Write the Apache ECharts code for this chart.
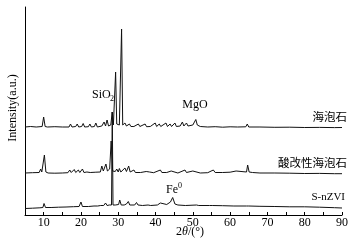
<!DOCTYPE html>
<html><head><meta charset="utf-8">
<script src="https://cdn.jsdelivr.net/npm/echarts@6/dist/echarts.min.js"></script>
<style>html,body{margin:0;padding:0;background:#fff}#c{width:358px;height:244px}</style>
</head><body><div id="c"></div>
<script>
// 2θ (degrees) and intensity (a.u., offset stacked) per sample
const sepAngle = [5,6.5,8,9.6,10.0,10.4,11,13,15,16.8,17.2,17.6,18.6,19.0,19.4,20.2,20.6,21.0,22.0,22.4,22.8,23.6,24.0,24.4,25.6,26.2,26.6,27.0,27.4,28.0,28.4,28.7,29.0,29.3,29.6,30.0,30.3,30.6,30.9,31.2,31.8,32.2,33.0,33.4,34.2,35.4,35.8,37.2,37.6,38.6,39.9,40.3,41.0,41.4,42.8,43.2,43.9,44.3,45.2,45.6,46.6,47.2,47.6,48.3,48.7,50.0,50.4,50.8,51.2,51.6,52.0,54,56,58,60,62,64.2,64.6,65.0,68,72,76,80,84,88,90];
const sepInt   = [88,88.5,88,88.5,98,88.5,88,88.3,88,88,91,88,88.5,91,88,88.5,91.5,88,88.3,91,88,88.5,92,88,89,93,89,95,89,90,103,90,92,143,91,93,90,92,186,90,92,89,91,88.5,88.5,91,88.5,91,88.3,88.5,92,88.5,91,88.5,92,88.5,91,88.5,92,88.5,89,93,89,92,89,90,89.5,95.5,90,92,88.5,88,88.3,87.8,88.2,88,88.2,91,88,88,87.7,87.8,87.5,87.6,87.4,87.5];

const acidAngle = [5,7,8.8,9.2,9.5,10.2,10.6,11.2,13,15,16.5,17.0,17.4,18.2,18.6,19.3,19.7,20.4,20.8,21.6,22.5,24,25.2,25.6,26.0,26.7,27.1,27.7,28.1,28.5,29.2,29.6,30.0,30.3,30.7,31.8,32.2,32.8,33.2,34.2,34.6,36,37.5,37.9,38.4,39.5,41.3,41.7,43,44.2,44.6,46,47.9,48.3,50,50.4,52,54,55.5,56,58,60,61.6,62,64.4,64.7,65.1,66,68,72,76,80,84,88,90];
const acidInt   = [42,42.3,42.5,46,43,60,43,42,41.8,42,42.3,45,42.5,45.5,42.5,45,42.5,46,42.5,43,42.5,42.8,43,49,44,51,44,46,74,44,43.5,46,43,46.5,43,47,43.5,49,43,45,42.5,42.5,43.5,45,43,42.3,45,42.5,42.5,44,42.5,42,45,42.5,44,42.3,42,42.3,45,42.5,42.5,42.8,44,42.3,43,50,43,42.5,42,42,41.8,41.5,41.6,41.3,41.3];

const znviAngle = [5,7,9,9.8,10.1,10.5,12,14,16,18,19.5,20.0,20.4,22,23.5,24.5,25.3,25.7,26.1,26.6,27.0,27.6,28.2,28.4,28.6,29.2,30.1,30.4,30.8,31.6,32.2,32.7,33.1,34.4,34.9,35.3,36.5,38.0,38.3,38.7,40.5,41.3,41.7,43,44.0,44.6,45.2,46,48,51,51.3,51.6,54.5,54.8,55.2,58,61,64.4,64.7,65,68,72,76,80,84,88,90];
const znviInt   = [6.5,6.8,7.2,7.5,11.5,7.5,7.5,7.8,8,8.3,8.5,13,8.5,8.5,9,9,9.5,11.5,9.5,12,9.5,10,10,103,10,10,10.5,15,10,10,11,13.5,10,10,12.5,10,9.5,10,11.5,9.5,10,12,10,10.5,13,17.5,11,10,9.5,10,11,9.5,9.5,10.5,9.5,9.3,9,9,11,9,8.7,8.5,8.2,8.2,7.8,7.3,7];

const xTicks = [10,20,30,40,50,60,70,80,90];
const seriesNames = ['海泡石','酸改性海泡石','S-nZVI'];

function pairs(a, b){ return a.map((v,i)=>[v,b[i]]); }

const chart = echarts.init(document.getElementById('c'), null, {renderer:'canvas'});
const serif = '"Liberation Serif","DejaVu Serif",serif';
const cjk = '"Noto Sans CJK SC","Noto Sans CJK JP",sans-serif';
const lineStyle = {color:'#111', width:1};
const mk = (name, d) => ({type:'line', name, data:d, showSymbol:false, symbol:'none', lineStyle, silent:true, animation:false});

chart.setOption({
  backgroundColor:'#fff',
  animation:false,
  grid:{left:25, right:16, top:7, bottom:29},
  xAxis:{type:'value', min:5, max:90, interval:5,
    axisLine:{show:true, lineStyle:{color:'#000', width:1}},
    axisTick:{show:true, inside:true, length:3, lineStyle:{color:'#000'}},
    splitLine:{show:false},
    axisLabel:{margin:2, color:'#000', fontFamily:serif, fontSize:12,
      formatter:v => xTicks.includes(v) ? String(v) : ''}},
  yAxis:{type:'value', min:0, max:208,
    axisLine:{show:true, lineStyle:{color:'#000', width:1}},
    axisTick:{show:false}, axisLabel:{show:false}, splitLine:{show:false}},
  series:[
    mk(seriesNames[0], pairs(sepAngle, sepInt)),
    mk(seriesNames[1], pairs(acidAngle, acidInt)),
    mk(seriesNames[2], pairs(znviAngle, znviInt))
  ],
  graphic:[
    {type:'text', x:13, y:108, rotation:Math.PI/2, style:{text:'Intensity(a.u.)', font:'12px '+serif, fill:'#000', textAlign:'center', textVerticalAlign:'middle'}},
    {type:'text', x:190, y:232, style:{text:'2{i|θ}/(°)', font:'12px '+serif, fill:'#000', textAlign:'center', textVerticalAlign:'middle', rich:{i:{fontStyle:'italic', fontFamily:serif, fontSize:12}}}},
    {type:'text', x:92, y:95, style:{text:'SiO', font:'12px '+serif, fill:'#000', textVerticalAlign:'middle'}},
    {type:'text', x:110, y:99, style:{text:'2', font:'8px '+serif, fill:'#000', textVerticalAlign:'middle'}},
    {type:'text', x:195, y:105, style:{text:'MgO', font:'12px '+serif, fill:'#000', textAlign:'center', textVerticalAlign:'middle'}},
    {type:'text', x:166, y:190, style:{text:'Fe', font:'12px '+serif, fill:'#000', textVerticalAlign:'middle'}},
    {type:'text', x:178, y:186, style:{text:'0', font:'8px '+serif, fill:'#000', textVerticalAlign:'middle'}},
    {type:'text', x:347, y:117, style:{text:seriesNames[0], font:'11.5px '+cjk, fill:'#000', textAlign:'right', textVerticalAlign:'middle'}},
    {type:'text', x:347, y:163, style:{text:seriesNames[1], font:'11.5px '+cjk, fill:'#000', textAlign:'right', textVerticalAlign:'middle'}},
    {type:'text', x:345, y:197, style:{text:seriesNames[2], font:'11px '+serif, fill:'#000', textAlign:'right', textVerticalAlign:'middle'}}
  ]
});
</script></body></html>
